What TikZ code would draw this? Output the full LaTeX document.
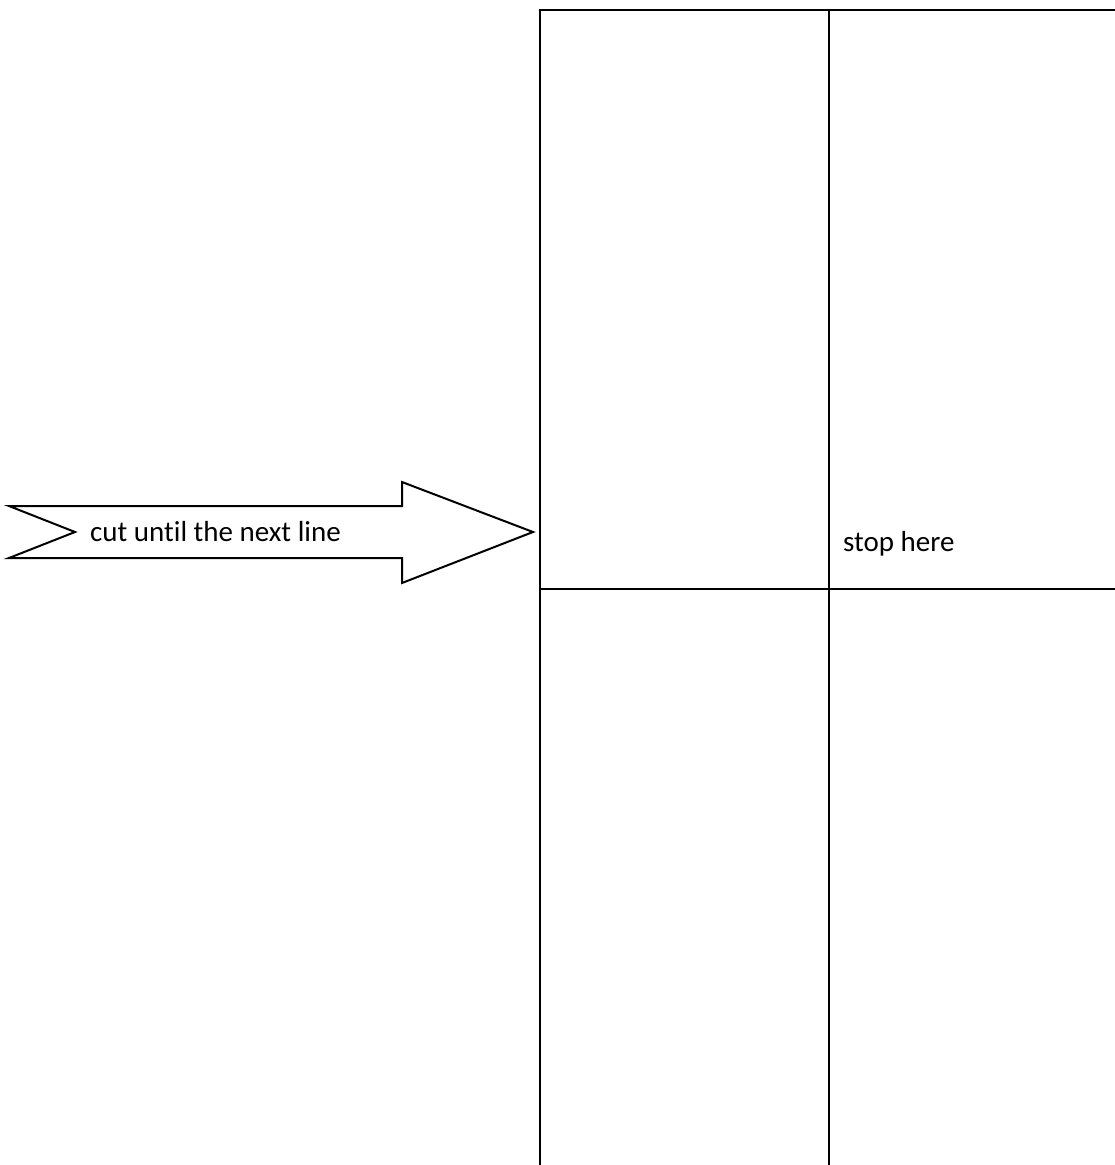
\documentclass[tikz,border=0pt]{standalone}
\usepackage{fontspec}
\setmainfont[Ligatures=CommonOff]{Carlito}
\usepackage{tikz}
\tikzstyle{rule}=[line width=2pt,line cap=rect]
\tikzstyle{cutarrow}=[line width=2pt,line join=miter,draw=black,fill=white]
\tikzstyle{lbl}=[inner sep=0pt,anchor=base west,font=\fontsize{29}{35}\selectfont]
\newcommand\topY{10}
\newcommand\botY{1165}
\newcommand\midY{589}

\begin{document}
\begin{tikzpicture}[x=1pt,y=-1pt]
  \useasboundingbox (0,0) rectangle (1115,1165);

  % the cutting grid
  \draw[rule] (540,\topY) -- (1115,\topY);
  \draw[rule] (540,\midY) -- (1115,\midY);
  \draw[rule] (540,\topY) -- (540,\botY);
  \draw[rule] (829,\topY) -- (829,\botY);

  % notched arrow pointing at the grid
  \draw[cutarrow] (9,506) -- (402,506) -- (402,482) -- (533,532)
    -- (402,583) -- (402,558) -- (9,558) -- (75,532) -- cycle;

  \node[lbl] (cut) at (90,541) {cut until the next line};
  \node[lbl] (stop) at (843,551) {stop here};
\end{tikzpicture}
\end{document}
